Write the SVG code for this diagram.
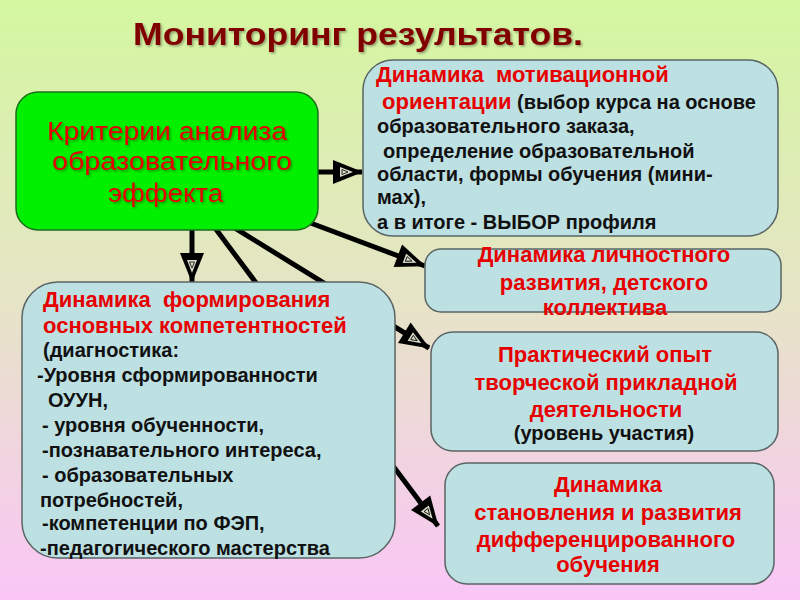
<svg xmlns="http://www.w3.org/2000/svg" width="800" height="600" viewBox="0 0 800 600">
<defs>
<linearGradient id="bg" x1="0" y1="0" x2="0" y2="1">
<stop offset="0" stop-color="#d4f7a0"/>
<stop offset="0.5" stop-color="#e6e4c6"/>
<stop offset="1" stop-color="#fac6f6"/>
</linearGradient>
<filter id="sh" x="-10%" y="-10%" width="120%" height="130%">
<feDropShadow dx="1.5" dy="1.5" stdDeviation="0.8" flood-color="#000" flood-opacity="0.35"/>
</filter>
<marker id="ah" viewBox="0 0 32 26" refX="30" refY="13" markerWidth="32" markerHeight="26" markerUnits="userSpaceOnUse" orient="auto">
<path d="M1,1 L31,13 L1,25 Z" fill="#000"/>
<path d="M8,8 L21,13 L8,18 Z" fill="#d8dcc8"/>
<path d="M10,10.5 L16,13 L10,15.5 Z" fill="none" stroke="#000" stroke-width="0.8"/>
</marker>
</defs>
<style>
.box{fill:#bde0e3;stroke:#5a6464;stroke-width:1.5;}
.t{font-family:"Liberation Sans",Arial,sans-serif;font-weight:bold;font-size:20px;}
.h{font-size:22px;}
.r{fill:#e60000;}
.k{fill:#111;}
.c{text-anchor:middle;}
.ln{stroke:#000;stroke-width:5;fill:none;marker-end:url(#ah);}
</style>
<rect x="0" y="0" width="800" height="600" fill="url(#bg)"/>
<text x="133" y="45" textLength="450" lengthAdjust="spacingAndGlyphs" font-family="'Liberation Sans',Arial,sans-serif" font-weight="bold" font-size="32" fill="#800000" filter="url(#sh)">Мониторинг результатов.</text>
<g id="connectors">
<line class="ln" x1="318" y1="172" x2="362" y2="172"/>
<line class="ln" x1="300" y1="219" x2="425" y2="266"/>
<line class="ln" x1="192" y1="226" x2="192" y2="282"/>
<line class="ln" x1="230" y1="225" x2="429" y2="348"/>
<line class="ln" x1="212" y1="224" x2="438" y2="526"/>
</g>
<g id="criteria">
<rect x="16" y="92" width="302" height="138" rx="22" fill="#00f000" stroke="#1c6e1c" stroke-width="1.5"/>
<g font-family="'Liberation Sans',Arial,sans-serif" font-size="26" fill="#e60000" filter="url(#sh)">
<text x="47" y="140" textLength="240" lengthAdjust="spacingAndGlyphs">Критерии анализа</text>
<text x="52" y="170" textLength="240" lengthAdjust="spacingAndGlyphs">образовательного</text>
<text x="108" y="202" textLength="115" lengthAdjust="spacingAndGlyphs">эффекта</text>
</g>
</g>
<g id="motivation">
<rect class="box" x="363" y="60" width="415" height="176" rx="30"/>
<text class="t h r" x="376" y="82" xml:space="preserve">Динамика  мотивационной</text>
<text class="t" x="382" y="109" xml:space="preserve"><tspan class="r h">ориентации</tspan><tspan class="k"> (выбор курса на основе</tspan></text>
<text class="t k" x="377" y="133">образовательного заказа,</text>
<text class="t k" x="383" y="158">определение образовательной</text>
<text class="t k" x="377" y="181">области, формы обучения (мини-</text>
<text class="t k" x="377" y="204">мах),</text>
<text class="t k" x="377" y="229">а в итоге - ВЫБОР профиля</text>
</g>
<g id="personal">
<rect class="box" x="425" y="249" width="356" height="63" rx="16"/>
<text class="t h r c" x="604" y="262">Динамика личностного</text>
<text class="t h r c" x="604" y="290">развития, детского</text>
<text class="t h r c" x="605" y="315">коллектива</text>
</g>
<g id="practice">
<rect class="box" x="431" y="332" width="347" height="119" rx="22"/>
<text class="t h r c" x="605" y="362">Практический опыт</text>
<text class="t h r c" x="606" y="390">творческой прикладной</text>
<text class="t h r c" x="606" y="417">деятельности</text>
<text class="t k c" x="604" y="440">(уровень участия)</text>
</g>
<g id="differentiated">
<rect class="box" x="445" y="463" width="329" height="121" rx="22"/>
<text class="t h r c" x="608" y="492">Динамика</text>
<text class="t h r c" x="608" y="520">становления и развития</text>
<text class="t h r c" x="606" y="547">дифференцированного</text>
<text class="t h r c" x="608" y="572">обучения</text>
</g>
<g id="competences">
<rect class="box" x="22" y="282" width="373" height="276" rx="36"/>
<text class="t h r" x="43" y="307" xml:space="preserve">Динамика  формирования</text>
<text class="t h r" x="43" y="333">основных компетентностей</text>
<text class="t k" x="43" y="357" font-size="17.5">(диагностика:</text>
<text class="t k" x="37" y="382">-Уровня сформированности</text>
<text class="t k" x="48" y="407">ОУУН,</text>
<text class="t k" x="42" y="432">- уровня обученности,</text>
<text class="t k" x="42" y="457">-познавательного интереса,</text>
<text class="t k" x="42" y="482">- образовательных</text>
<text class="t k" x="40" y="507">потребностей,</text>
<text class="t k" x="42" y="530">-компетенции по ФЭП,</text>
<text class="t k" x="40" y="555">-педагогического мастерства</text>
</g>
</svg>
